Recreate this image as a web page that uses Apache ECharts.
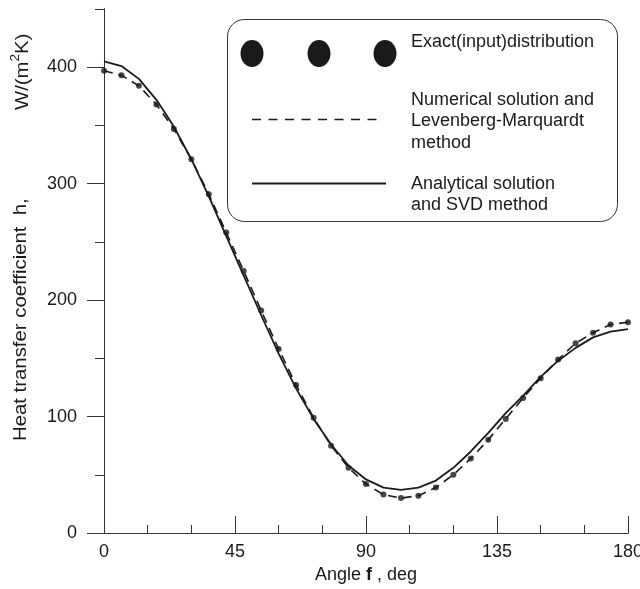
<!DOCTYPE html>
<html>
<head>
<meta charset="utf-8">
<script src="https://cdn.jsdelivr.net/npm/echarts@6/dist/echarts.min.js"></script>
<style>
  html, body { margin: 0; padding: 0; background: #fff; }
  #chart { width: 640px; height: 589px; }
</style>
</head>
<body>
<div id="chart"></div>
<script>
// Angle around the cylinder, degrees
const angles = [0, 6, 12, 18, 24, 30, 36, 42, 48, 54, 60, 66, 72, 78, 84, 90,
  96, 102, 108, 114, 120, 126, 132, 138, 144, 150, 156, 162, 168, 174, 180];

// Exact (input) heat transfer coefficient, W/(m2K)
const exactValues = [397, 393, 384, 368, 347, 321, 291, 258, 225, 191, 158, 127, 99, 75, 56, 42,
  33, 30, 32, 39, 50, 64, 80, 98, 116, 133, 149, 163, 172, 179, 181];

// Numerical solution, Levenberg-Marquardt method
const numericalValues = [397, 393, 384, 368, 347, 321, 291, 258, 225, 191, 158, 127, 99, 75, 56, 42,
  33, 30, 32, 39, 50, 64, 80, 98, 116, 133, 149, 163, 172, 179, 181];

// Analytical solution, SVD method
const analyticalValues = [405, 401, 390, 372, 349, 321, 289, 255, 221, 187, 154, 124, 98, 76, 58, 46,
  39, 37, 39, 45, 56, 70, 86, 103, 118, 134, 148, 159, 168, 173, 175];

const xTickLabels = ['0', '45', '90', '135', '180'];
const yTickLabels = ['0', '100', '200', '300', '400'];

const FONT = '"Liberation Sans", Arial, sans-serif';
const INK = '#1a1a1a';
const AXIS = '#333';

const pairs = (xs, ys) => xs.map((x, i) => [x, ys[i]]);

const chart = echarts.init(document.getElementById('chart'), null, { renderer: 'canvas' });

chart.setOption({
  animation: false,
  backgroundColor: '#fff',
  grid: [
    { left: 104, right: 12, top: 9, bottom: 56, outerBoundsMode: 'none', containLabel: false },
    { left: 104, right: 12, top: 67.22, bottom: 56, outerBoundsMode: 'none', containLabel: false }
  ],
  xAxis: [
    {
      gridIndex: 0, type: 'value', position: 'bottom', min: 0, max: 180, interval: 45,
      axisLine: { show: true, lineStyle: { color: AXIS, width: 1 } },
      axisTick: { show: true, inside: true, length: 17, lineStyle: { color: AXIS } },
      minorTick: { show: true, splitNumber: 3, length: 8, lineStyle: { color: AXIS } },
      splitLine: { show: false },
      axisLabel: {
        margin: 10, fontSize: 18, fontFamily: FONT, color: INK,
        formatter: v => xTickLabels[Math.round(v / 45)]
      },
      name: '{n|Angle }{b|f}{n| , deg}',
      nameLocation: 'middle', nameGap: 26,
      nameTextStyle: {
        rich: {
          n: { fontSize: 18, fontFamily: FONT, color: INK },
          b: { fontSize: 18, fontFamily: FONT, color: INK, fontWeight: 'bold' }
        }
      }
    },
    {
      gridIndex: 0, type: 'value', position: 'top', min: 0, max: 180,
      axisLine: { show: true, lineStyle: { color: AXIS, width: 1 } },
      axisTick: { show: false }, axisLabel: { show: false }, splitLine: { show: false }
    },
    { gridIndex: 1, type: 'value', min: 0, max: 180, show: false }
  ],
  yAxis: [
    {
      gridIndex: 0, type: 'value', position: 'left', min: 0, max: 450, interval: 50,
      axisLine: { show: true, lineStyle: { color: AXIS, width: 1 } },
      axisTick: { show: true, inside: false, length: 9, lineStyle: { color: AXIS } },
      axisLabel: { show: false }, splitLine: { show: false }
    },
    {
      gridIndex: 0, type: 'value', position: 'right', min: 0, max: 450, interval: 50,
      axisLine: { show: true, lineStyle: { color: AXIS, width: 1 } },
      axisTick: { show: true, inside: true, length: 7, lineStyle: { color: AXIS } },
      axisLabel: { show: false }, splitLine: { show: false }
    },
    {
      gridIndex: 1, type: 'value', position: 'left', min: 0, max: 400, interval: 100,
      axisLine: { show: false },
      axisTick: { show: true, inside: false, length: 17, lineStyle: { color: AXIS } },
      axisLabel: {
        margin: 27, fontSize: 18, fontFamily: FONT, color: INK,
        formatter: v => yTickLabels[Math.round(v / 100)]
      },
      splitLine: { show: false }
    }
  ],
  series: [
    {
      name: 'Analytical solution and SVD method',
      type: 'line', xAxisIndex: 0, yAxisIndex: 0,
      data: pairs(angles, analyticalValues),
      showSymbol: false, smooth: false,
      lineStyle: { color: INK, width: 1.8 }
    },
    {
      name: 'Numerical solution and Levenberg-Marquardt method',
      type: 'line', xAxisIndex: 0, yAxisIndex: 0,
      data: pairs(angles, numericalValues),
      showSymbol: false, smooth: false,
      lineStyle: { color: INK, width: 1.6, type: [9, 6] }
    },
    {
      name: 'Exact(input)distribution',
      type: 'scatter', xAxisIndex: 0, yAxisIndex: 0,
      data: pairs(angles, exactValues),
      symbol: 'circle', symbolSize: 6,
      itemStyle: { color: INK }
    }
  ],
  graphic: [
    // legend box
    {
      type: 'rect', z: 100,
      shape: { x: 227.5, y: 19.5, width: 390, height: 202, r: 17 },
      style: { fill: '#fff', stroke: AXIS, lineWidth: 1 }
    },
    { type: 'ellipse', z: 101, shape: { cx: 252, cy: 53.5, rx: 11.5, ry: 13.5 }, style: { fill: INK } },
    { type: 'ellipse', z: 101, shape: { cx: 319, cy: 53.5, rx: 11.5, ry: 13.5 }, style: { fill: INK } },
    { type: 'ellipse', z: 101, shape: { cx: 385, cy: 53.5, rx: 11.5, ry: 13.5 }, style: { fill: INK } },
    {
      type: 'line', z: 101,
      shape: { x1: 252, y1: 119.5, x2: 384, y2: 119.5 },
      style: { stroke: INK, lineWidth: 1.6, lineDash: [9, 7.5] }
    },
    {
      type: 'line', z: 101,
      shape: { x1: 252, y1: 183.5, x2: 386, y2: 183.5 },
      style: { stroke: INK, lineWidth: 1.8 }
    },
    {
      type: 'text', z: 101, x: 411, y: 42.5,
      style: { text: 'Exact(input)distribution', fontSize: 18, fontFamily: FONT, fill: INK, verticalAlign: 'middle' }
    },
    {
      type: 'text', z: 101, x: 411, y: 121.5,
      style: {
        text: 'Numerical solution and\nLevenberg-Marquardt\nmethod',
        fontSize: 18, lineHeight: 21.5, fontFamily: FONT, fill: INK, verticalAlign: 'middle'
      }
    },
    {
      type: 'text', z: 101, x: 411, y: 194.5,
      style: {
        text: 'Analytical solution\nand SVD method',
        fontSize: 18, lineHeight: 21, fontFamily: FONT, fill: INK, verticalAlign: 'middle'
      }
    },
    // vertical axis title, read bottom to top
    {
      type: 'text', z: 101, x: 21, y: 441, rotation: Math.PI / 2, scaleX: 1.13,
      style: {
        text: 'Heat transfer coefficient  h,',
        align: 'left', verticalAlign: 'middle',
        fontSize: 18, fontFamily: FONT, fill: INK
      }
    },
    {
      type: 'text', z: 101, x: 21, y: 110, rotation: Math.PI / 2, scaleX: 1.13,
      style: {
        text: '{n|W/(m}{s|2}{n|K)}',
        align: 'left', verticalAlign: 'middle',
        rich: {
          n: { fontSize: 18, fontFamily: FONT, fill: INK, lineHeight: 22, verticalAlign: 'bottom' },
          s: { fontSize: 12, fontFamily: FONT, fill: INK, lineHeight: 22, verticalAlign: 'top' }
        }
      }
    }
  ]
});
</script>
</body>
</html>
